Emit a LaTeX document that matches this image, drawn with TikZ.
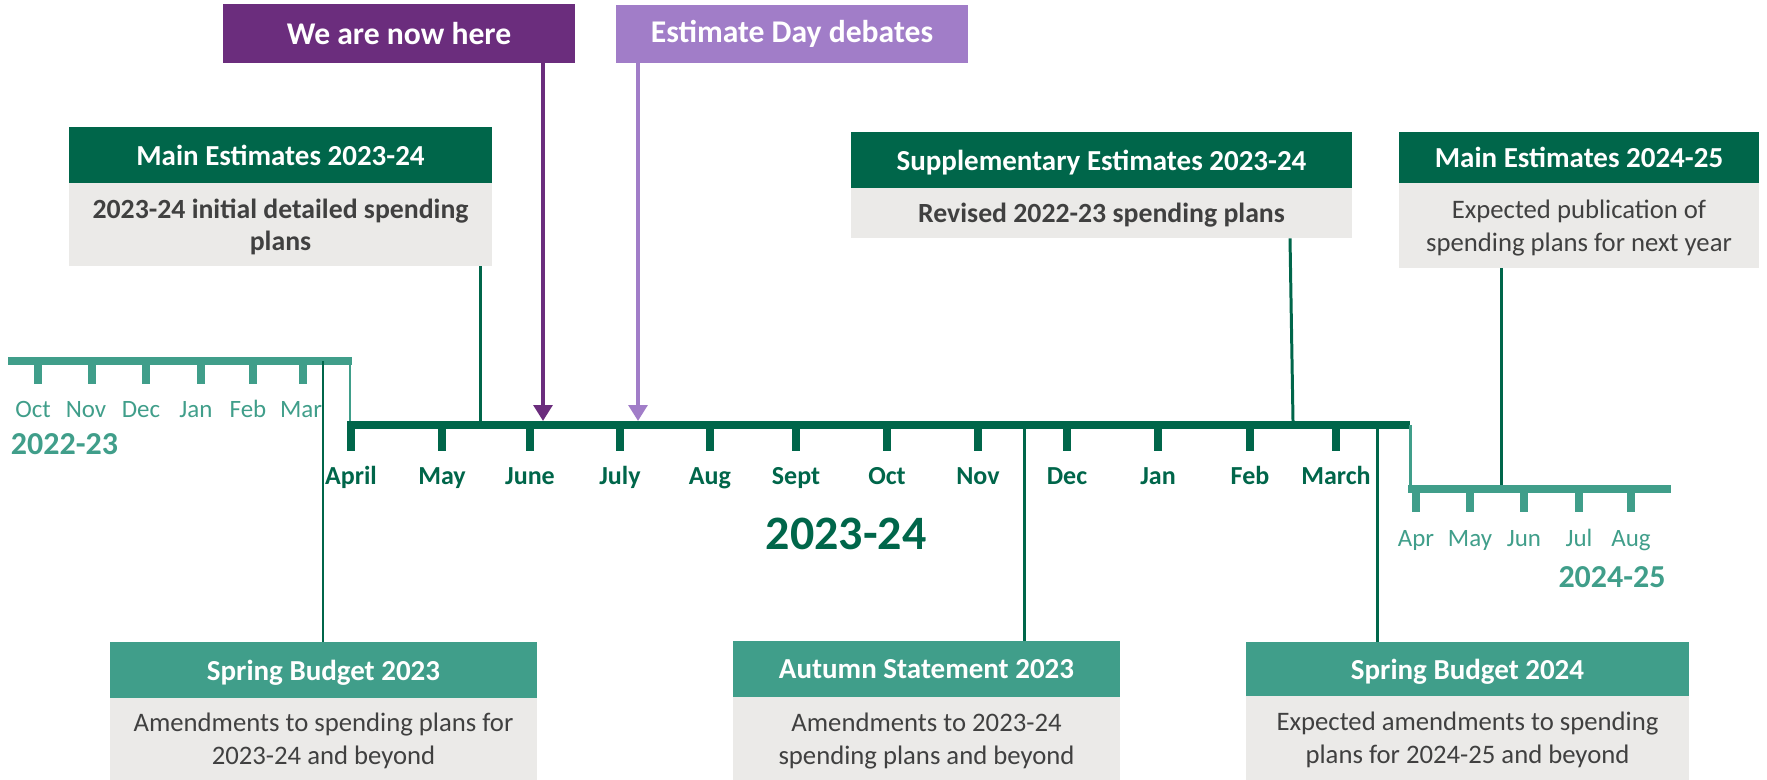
\documentclass[tikz,border=0pt]{standalone}
\usepackage{fontspec}
\setmainfont{Carlito}
\usetikzlibrary{arrows.meta}
\definecolor{dkgreen}{HTML}{00664A}
\definecolor{tealc}{HTML}{409E8A}
\definecolor{purp}{HTML}{6B2D7D}
\definecolor{lav}{HTML}{A17DC8}
\definecolor{boxgray}{HTML}{EBEAE8}
\definecolor{txtgray}{HTML}{404040}
\tikzset{
  boxwh/.style 2 args={minimum width=#1*0.02cm, minimum height=#2*0.02cm},
  hdr/.style={rectangle, inner sep=0pt, text depth=0pt, text=white, align=center, font=\fontsize{16.5}{19}\selectfont\bfseries},
  topbox/.style={rectangle, inner sep=0pt, text=white, align=center, font=\fontsize{18}{21}\selectfont\bfseries},
  bodybox/.style={rectangle, inner sep=0pt, text depth=0pt, fill=boxgray, text=txtgray, align=center, font=\fontsize{15.2}{18.6}\selectfont},
  boldbody/.style={font=\fontsize{15.8}{18}\selectfont\bfseries},
  maxis/.style={draw=dkgreen, line width=4.6pt},
  taxis/.style={draw=tealc, line width=4.6pt},
  mtick/.style={draw=dkgreen, line width=4.4pt},
  ttick/.style={draw=tealc, line width=4.4pt},
  tvert/.style={draw=tealc, line width=1.7pt},
  conn/.style={draw=dkgreen, line width=1.7pt},
  mlab/.style={anchor=base, text=dkgreen, inner sep=0pt, font=\fontsize{14.8}{17}\selectfont\bfseries},
  tlab/.style={anchor=base, text=tealc, inner sep=0pt, font=\fontsize{14.2}{17}\selectfont},
  yearlab/.style={anchor=base, text=tealc, inner sep=0pt, font=\fontsize{18.2}{21}\selectfont\bfseries},
  parrow/.style={line width=2.8pt, -{Triangle[length=9pt,width=10.5pt]}},
}
\begin{document}
\begin{tikzpicture}[x=0.02cm,y=-0.02cm]
\useasboundingbox (0,0) rectangle (1767,780);

% axes
\draw[taxis] (8,361) -- (352,361);
\draw[tvert] (350,361) -- (350,425);
\draw[maxis] (347,425) -- (1410,425);
\draw[tvert] (1410,425) -- (1410,489);
\draw[taxis] (1408,489) -- (1671,489);

% ticks and month labels (2023-24)
\foreach \x/\m in {351/April,442/May,530/June,620/July,710/Aug,796/Sept,887/Oct,978/Nov,1067/Dec,1158/Jan,1250/Feb,1336/March}{
  \draw[mtick] (\x,427) -- (\x,451);
  \node[mlab] (m\m) at (\x,484) {\m};
}
% 2022-23
\foreach \x/\lx/\m in {38/33/Oct,92/86/Nov,146/141/Dec,201/196/Jan,253/248/Feb,303/301/Mar}{
  \draw[ttick] (\x,363) -- (\x,384);
  \node[tlab] (l\m) at (\lx,417) {\m};
}
% 2024-25
\foreach \x/\m in {1416/Apr,1470/May,1524/Jun,1579/Jul,1631/Aug}{
  \draw[ttick] (\x,491) -- (\x,512);
  \node[tlab] (r\m) at (\x,546) {\m};
}
\node[yearlab] (y2223) at (64.5,454) {2022-23};
\node[yearlab] (y2425) at (1612,587) {2024-25};
\node[anchor=base, text=dkgreen, inner sep=0pt, font=\fontsize{27.3}{30}\selectfont\bfseries] (y2324) at (846,549) {2023-24};

% top boxes
\node[topbox, fill=purp, boxwh={352}{59}] (now) at (399,33.5) {We are now here};
\node[topbox, fill=lav, boxwh={352}{58}] (edd) at (792,34) {Estimate Day debates};

\node[hdr, fill=dkgreen, boxwh={423}{56}] (me23h) at (280.5,155) {Main Estimates 2023-24};
\node[bodybox, boldbody, boxwh={423}{83}] (me23b) at (280.5,224.5) {2023-24 initial detailed spending\\plans};

\node[hdr, fill=dkgreen, boxwh={501}{56}] (suph) at (1101.5,160) {Supplementary Estimates 2023-24};
\node[bodybox, boldbody, boxwh={501}{50}] (supb) at (1101.5,213) {Revised 2022-23 spending plans};

\node[hdr, fill=dkgreen, boxwh={360}{51}] (me24h) at (1579,157.5) {Main Estimates 2024-25};
\node[bodybox, boxwh={360}{85}] (me24b) at (1579,225.5) {Expected publication of\\spending plans for next year};

% bottom boxes
\node[hdr, fill=tealc, boxwh={427}{56}] (sb23h) at (323.5,670) {Spring Budget 2023};
\node[bodybox, boxwh={427}{82}] (sb23b) at (323.5,739) {Amendments to spending plans for\\2023-24 and beyond};

\node[hdr, fill=tealc, boxwh={387}{56}] (as23h) at (926.5,669) {Autumn Statement 2023};
\node[bodybox, boxwh={387}{83}] (as23b) at (926.5,738.5) {Amendments to 2023-24\\spending plans and beyond};

\node[hdr, fill=tealc, boxwh={443}{54}] (sb24h) at (1467.5,669) {Spring Budget 2024};
\node[bodybox, boxwh={443}{84}] (sb24b) at (1467.5,738) {Expected amendments to spending\\plans for 2024-25 and beyond};

% connector points on the axes
\coordinate (cME23) at (480,421);
\coordinate (cSUP) at (1293,421);
\coordinate (cME24) at (1501,485);
\coordinate (cSB23) at (323,361);
\coordinate (cAS23) at (1024,425);
\coordinate (cSB24) at (1377,425);
\coordinate (cNOW) at (543,421);
\coordinate (cEDD) at (638,421);

\draw[conn] (me23b.south -| cME23) -- (cME23);
\draw[conn] (supb.south -| 1290,0) -- (cSUP);
\draw[conn] (me24b.south -| cME24) -- (cME24);
\draw[conn] (cSB23) -- (sb23h.north -| cSB23);
\draw[conn] (cAS23) -- (as23h.north -| cAS23);
\draw[conn] (cSB24) -- (sb24h.north -| cSB24);

\draw[parrow, draw=purp, fill=purp] (now.south -| cNOW) -- (cNOW);
\draw[parrow, draw=lav, fill=lav] (edd.south -| cEDD) -- (cEDD);
\end{tikzpicture}
\end{document}
